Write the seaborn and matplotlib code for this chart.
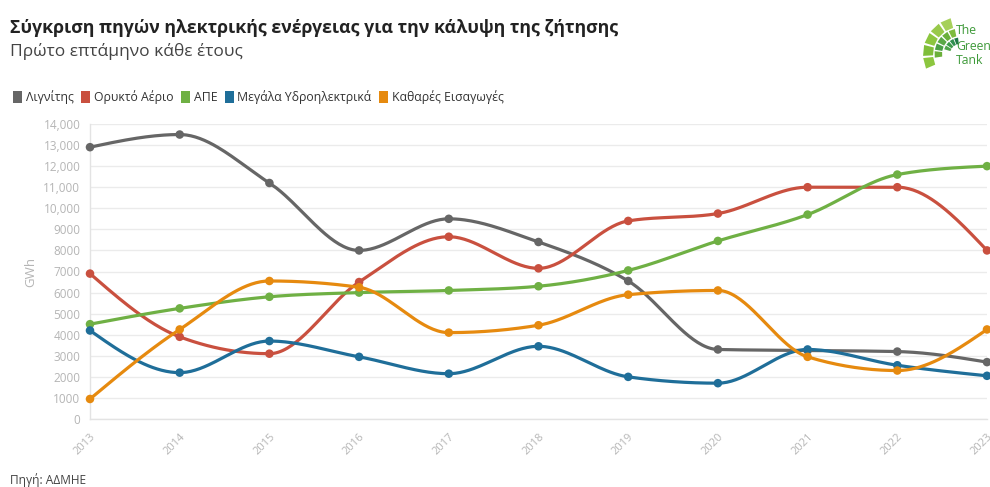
import numpy as np
import pandas as pd
import seaborn as sns
import matplotlib
matplotlib.use("Agg")
import matplotlib.pyplot as plt
from matplotlib.patches import Patch, Polygon
from matplotlib.ticker import FuncFormatter

# Energy sources covering demand, first seven months of each year (GWh)
years = [2013, 2014, 2015, 2016, 2017, 2018, 2019, 2020, 2021, 2022, 2023]
lignite = [12900, 13500, 11200, 8000, 9500, 8400, 6550, 3300, 3250, 3200, 2700]
natural_gas = [6900, 3900, 3100, 6500, 8650, 7150, 9400, 9750, 11000, 11000, 8000]
renewables = [4500, 5250, 5800, 6000, 6100, 6300, 7050, 8450, 9700, 11600, 12000]
large_hydro = [4200, 2200, 3700, 2950, 2150, 3450, 2000, 1700, 3300, 2550, 2050]
net_imports = [950, 4250, 6550, 6250, 4100, 4450, 5900, 6100, 2950, 2300, 4250]

series_names = ["Λιγνίτης", "Ορυκτό Αέριο", "ΑΠΕ", "Μεγάλα Υδροηλεκτρικά", "Καθαρές Εισαγωγές"]
series_values = [lignite, natural_gas, renewables, large_hydro, net_imports]
colors = ["#666666", "#c9503f", "#6fb044", "#1f6e99", "#e68a0f"]

title = "Σύγκριση πηγών ηλεκτρικής ενέργειας για την κάλυψη της ζήτησης"
subtitle = "Πρώτο επτάμηνο κάθε έτους"
source = "Πηγή: ΑΔΜΗΕ"


def monotone_curve(x, y, n=40):
    """Monotone cubic (monotoneX-style) path through the points."""
    x = np.asarray(x, float)
    y = np.asarray(y, float)
    h = np.diff(x)
    s = np.diff(y) / h
    t = np.zeros_like(y)
    for i in range(1, len(x) - 1):
        p = (s[i - 1] * h[i] + s[i] * h[i - 1]) / (h[i - 1] + h[i])
        t[i] = (np.sign(s[i - 1]) + np.sign(s[i])) * min(abs(s[i - 1]), abs(s[i]), 0.5 * abs(p))
    t[0] = (3 * s[0] - t[1]) / 2
    t[-1] = (3 * s[-1] - t[-2]) / 2
    xs, ys = [], []
    for i in range(len(x) - 1):
        u = np.linspace(0, 1, n, endpoint=(i == len(x) - 2))
        h00 = 2 * u**3 - 3 * u**2 + 1
        h10 = u**3 - 2 * u**2 + u
        h01 = -2 * u**3 + 3 * u**2
        h11 = u**3 - u**2
        xs.append(x[i] + u * h[i])
        ys.append(h00 * y[i] + h10 * h[i] * t[i] + h01 * y[i + 1] + h11 * h[i] * t[i + 1])
    return np.concatenate(xs), np.concatenate(ys)


points = pd.DataFrame(
    [(yr, v, name) for name, vals in zip(series_names, series_values) for yr, v in zip(years, vals)],
    columns=["year", "gwh", "source"],
)
curve_rows = []
for name, vals in zip(series_names, series_values):
    cx, cy = monotone_curve(years, vals)
    curve_rows.append(pd.DataFrame({"year": cx, "gwh": cy, "source": name}))
curves = pd.concat(curve_rows, ignore_index=True)

sns.set_style("white")
plt.rcParams["font.family"] = ["Open Sans", "DejaVu Sans"]

fig = plt.figure(figsize=(9.9, 4.87), dpi=100)
ax = fig.add_axes([90 / 990, 1 - 419 / 487, 897 / 990, 295 / 487])

palette = dict(zip(series_names, colors))
sns.lineplot(data=curves, x="year", y="gwh", hue="source", palette=palette,
             linewidth=2.3, legend=False, ax=ax, sort=False, estimator=None, units="source", zorder=3)
sns.scatterplot(data=points, x="year", y="gwh", hue="source", palette=palette,
                s=38, linewidth=0, legend=False, ax=ax, zorder=4, clip_on=False)
for coll in ax.collections:
    coll.set_clip_on(False)
for line in ax.lines:
    line.set_clip_on(False)

ax.set_xlim(2013, 2023)
ax.set_ylim(0, 14000)
ax.set_yticks(np.arange(0, 14001, 1000))
ax.yaxis.set_major_formatter(FuncFormatter(lambda v, _: f"{int(v):,}" if v >= 10000 else f"{int(v)}"))
ax.set_xticks(years)
ax.set_xticklabels([str(y) for y in years], rotation=45, ha="right", rotation_mode="anchor")
ax.grid(axis="y", color="#ebebeb", linewidth=1)
ax.set_axisbelow(True)
for side in ["top", "right"]:
    ax.spines[side].set_visible(False)
for side in ["left", "bottom"]:
    ax.spines[side].set_color("#e3e3e3")
    ax.spines[side].set_linewidth(1)
ax.tick_params(axis="x", length=6, color="#e3e3e3", labelsize=8, labelcolor="#b5b5b5", pad=3)
ax.tick_params(axis="y", length=0, labelsize=8.5, labelcolor="#b5b5b5", pad=7)
ax.set_xlabel("")
ax.set_ylabel("GWh", color="#b5b5b5", fontsize=9.5, labelpad=4)

fig.text(10 / 990, 1 - 28 / 487, title, fontsize=12.8, fontweight="bold", color="#222222", va="center")
fig.text(10 / 990, 1 - 52 / 487, subtitle, fontsize=12.5, color="#444444", va="center")
fig.text(10 / 990, 1 - 480 / 487, source, fontsize=8.6, color="#444444", va="center")

handles = [Patch(facecolor=c, edgecolor="none") for c in colors]
fig.legend(handles, series_names, loc="center left", bbox_to_anchor=(2 / 990, 1 - 97 / 487),
           ncol=5, frameon=False, fontsize=8.8, handlelength=0.75, handleheight=1.1,
           handletextpad=0.3, columnspacing=0.6, labelcolor="#333333")

# logo: fan of green tiles with wordmark (axes in pixel units)
lax = fig.add_axes([905 / 990, 1 - 75 / 487, 85 / 990, 65 / 487])
lax.set_xlim(905, 990)
lax.set_ylim(75, 10)
lax.axis("off")
fan_x, fan_y = 960, 54
rings = [((27, 37), ["#a6d05a", "#98c94a", "#8cc63f", "#7fbe3a", "#8cc63f"], (103, 205)),
         ((18, 25.5), ["#7dbb3c", "#6bb03a", "#5aa846", "#4a9f45", "#6bb03a"], (100, 190)),
         ((10, 16.5), ["#1f7a45", "#2f8f4e", "#3d9a4a", "#4fa44a"], (95, 165))]
for (r0, r1), cols, (a_start, a_end) in rings:
    edges = np.radians(np.linspace(a_start, a_end, len(cols) + 1))
    for k, col in enumerate(cols):
        a0, a1 = edges[k] + 0.03, edges[k + 1] - 0.03
        pts = [(fan_x + r0 * np.cos(a0), fan_y - r0 * np.sin(a0)),
               (fan_x + r1 * np.cos(a0), fan_y - r1 * np.sin(a0)),
               (fan_x + r1 * np.cos(a1), fan_y - r1 * np.sin(a1)),
               (fan_x + r0 * np.cos(a1), fan_y - r0 * np.sin(a1))]
        lax.add_patch(Polygon(pts, closed=True, facecolor=col, edgecolor="none"))
for word, wy in [("The", 31), ("Green", 46), ("Tank", 61)]:
    lax.text(956, wy, word, fontsize=8.8, color="#3f9a3a", va="center", ha="left")

fig.savefig("out.png", dpi=100, facecolor="white")
